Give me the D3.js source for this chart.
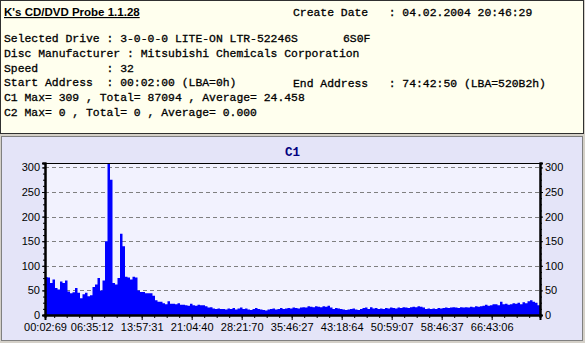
<!DOCTYPE html>
<html lang="en">
<head>
<meta charset="utf-8">
<title>K's CD/DVD Probe - C1</title>
<style>
  body { margin: 0; background: #d4d0c8; }
  svg { display: block; }
</style>
</head>
<body>
<svg id="chart"></svg>
<script src="https://d3js.org/d3.v7.min.js"></script>
<script>
// header info lines
const infoLeft = [
  "Selected Drive : 3-0-0-0 LITE-ON LTR-52246S",
  "Disc Manufacturer : Mitsubishi Chemicals Corporation",
  "Speed          : 32",
  "Start Address  : 00:02:00 (LBA=0h)",
  "C1 Max= 309 , Total= 87094 , Average= 24.458",
  "C2 Max= 0 , Total= 0 , Average= 0.000"
];
const createDate = "Create Date   : 04.02.2004 20:46:29";
const endAddress = "End Address   : 74:42:50 (LBA=520B2h)";
const firmware = "6S0F";

// C1 errors per sample
const c1 = [
  77, 76, 65, 72, 55, 52, 68, 65, 70, 48,
  44, 46, 55, 45, 34, 42, 45, 38, 40, 57,
  62, 75, 50, 70, 150, 309, 275, 65, 62, 75,
  165, 140, 78, 76, 72, 78, 76, 50, 47, 47,
  44, 44, 44, 39, 30, 27, 27, 24, 22, 28,
  23, 23, 22, 24, 21, 21, 20, 19, 23, 20,
  19, 21, 20, 20, 18, 15, 16, 13, 12, 13,
  12, 12, 11, 13, 12, 14, 11, 13, 15, 12,
  13, 11, 10, 12, 14, 12, 11, 10, 9, 11,
  12, 13, 11, 12, 14, 12, 13, 14, 13, 15,
  14, 13, 15, 16, 15, 18, 17, 16, 18, 17,
  16, 18, 17, 19, 15, 12, 14, 13, 12, 11,
  10, 11, 12, 13, 11, 10, 12, 14, 15, 12,
  16, 13, 14, 12, 13, 12, 14, 13, 15, 14,
  13, 15, 14, 16, 15, 14, 16, 17, 16, 18,
  17, 15, 12, 13, 12, 13, 12, 14, 13, 14,
  15, 14, 15, 16, 15, 14, 16, 15, 16, 15,
  17, 16, 18, 17, 18, 19, 21, 19, 20, 22,
  22, 20, 27, 22, 23, 21, 22, 24, 23, 25,
  22, 26, 24, 28, 30, 27, 25, 20
];

// x tick labels (disc time) and their sample positions
const xTickLabels = ["00:02:69", "06:35:12", "13:57:31", "21:04:40", "28:21:70",
  "35:46:27", "43:18:64", "50:59:07", "58:46:37", "66:43:06"];
const xTickPos = [0, 18.67, 38.67, 58.67, 78.67, 98.67, 118.67, 138.67, 158.67, 178.67];
const yTicks = [0, 50, 100, 150, 200, 250, 300];
const yMax = 309;

const width = 585, height = 343;
const plot = { left: 45, right: 540, top: 163, bottom: 315 };

const svg = d3.select('#chart')
  .attr('width', width)
  .attr('height', height);

// --- top info panel ---
svg.append('rect')
  .attr('x', 0.5).attr('y', 0.5)
  .attr('width', 583).attr('height', 133)
  .attr('fill', '#ffffee')
  .attr('stroke', '#303030');

svg.append('text')
  .attr('x', 4).attr('y', 16)
  .style('font-family', 'Liberation Sans, Arial, sans-serif')
  .style('font-weight', 'bold')
  .style('font-size', '11.5px')
  .style('text-decoration', 'underline')
  .text("K's CD/DVD Probe 1.1.28");

const mono = function(sel) {
  return sel.style('font-family', 'Liberation Mono, Courier New, monospace')
    .style('font-size', '11.4px')
    .attr('fill', '#000')
    .attr('stroke', '#000')
    .attr('stroke-width', 0.3)
    .attr('xml:space', 'preserve');
};

mono(svg.append('text')).attr('x', 293).attr('y', 16).text(createDate);
mono(svg.append('text')).attr('x', 343).attr('y', 42).text(firmware);
mono(svg.append('text')).attr('x', 293).attr('y', 87).text(endAddress);

svg.append('g').selectAll('text')
  .data(infoLeft)
  .enter()
  .append('text')
  .call(mono)
  .attr('x', 4)
  .attr('y', (d, i) => 42 + i * 14.8)
  .text(d => d);

// --- chart panel ---
svg.append('rect')
  .attr('x', 1.5).attr('y', 136.5)
  .attr('width', 581).attr('height', 204)
  .attr('fill', '#e4e4f8')
  .attr('stroke', '#808080');

svg.append('text')
  .attr('x', (plot.left + plot.right) / 2).attr('y', 156)
  .attr('text-anchor', 'middle')
  .style('font-family', 'Liberation Mono, Courier New, monospace')
  .style('font-weight', 'bold')
  .style('font-size', '12.5px')
  .attr('fill', '#000080')
  .text('C1');

const x = d3.scaleLinear().domain([0, c1.length]).range([plot.left, plot.right]);
const y = d3.scaleLinear().domain([0, yMax]).range([plot.bottom, plot.top]);

svg.append('rect')
  .attr('x', plot.left).attr('y', plot.top)
  .attr('width', plot.right - plot.left).attr('height', plot.bottom - plot.top)
  .attr('fill', '#f2f2fe');

// dashed grid
svg.append('g')
  .selectAll('line')
  .data(yTicks.filter(d => d > 0))
  .enter()
  .append('line')
  .attr('x1', plot.left).attr('x2', plot.right)
  .attr('y1', d => Math.round(y(d)) + 0.5)
  .attr('y2', d => Math.round(y(d)) + 0.5)
  .attr('stroke', '#808080')
  .attr('stroke-dasharray', '4,3');

// C1 bars as a stepped area
const steps = c1.map((v, i) => [i, v]).concat([[c1.length, c1[c1.length - 1]]]);
svg.append('path')
  .datum(steps)
  .attr('fill', '#0000ff')
  .attr('d', d3.area()
    .curve(d3.curveStepAfter)
    .x(d => x(d[0]))
    .y0(y(0))
    .y1(d => y(d[1])));

// frame
svg.append('line')
  .attr('x1', plot.left).attr('x2', plot.right)
  .attr('y1', plot.top + 0.5).attr('y2', plot.top + 0.5)
  .attr('stroke', '#000');

// axes
const styleAxis = function(g) {
  g.select('.domain').attr('stroke', '#000').attr('stroke-width', 2);
  g.selectAll('.tick line').attr('stroke', '#000');
  g.selectAll('.tick text')
    .style('font-family', 'Liberation Sans, Arial, sans-serif')
    .style('font-size', '11px')
    .attr('fill', '#000');
};

// minor ticks
const yMinor = d3.range(0, 301, 12.5);
const xMinor = d3.range(-1.33, c1.length, 5).filter(d => d > 0.5);

svg.append('g')
  .attr('transform', 'translate(' + plot.left + ',0)')
  .call(d3.axisLeft(y).tickValues(yMinor).tickSize(2).tickFormat(''))
  .call(styleAxis);
svg.append('g')
  .attr('transform', 'translate(' + plot.right + ',0)')
  .call(d3.axisRight(y).tickValues(yMinor).tickSize(2).tickFormat(''))
  .call(styleAxis);
svg.append('g')
  .attr('transform', 'translate(0,' + plot.bottom + ')')
  .call(d3.axisBottom(x).tickValues(xMinor).tickSize(3).tickFormat(''))
  .call(styleAxis);

svg.append('g')
  .attr('transform', 'translate(' + plot.left + ',0)')
  .call(d3.axisLeft(y).tickValues(yTicks).tickSize(3).tickPadding(2))
  .call(styleAxis);
svg.append('g')
  .attr('transform', 'translate(' + plot.right + ',0)')
  .call(d3.axisRight(y).tickValues(yTicks).tickSize(3).tickPadding(2))
  .call(styleAxis);
svg.append('g')
  .attr('transform', 'translate(0,' + plot.bottom + ')')
  .call(d3.axisBottom(x).tickValues(xTickPos).tickSize(5).tickPadding(3)
    .tickFormat((d, i) => xTickLabels[i]))
  .call(styleAxis);
</script>
</body>
</html>
